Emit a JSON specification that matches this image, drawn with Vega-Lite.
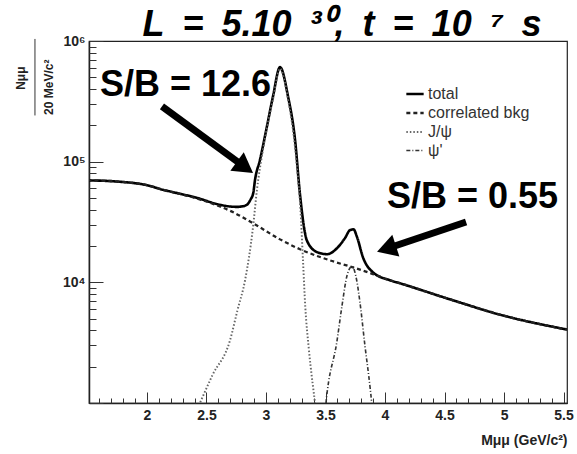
{
  "$schema": "https://vega.github.io/schema/vega-lite/v6.json",
  "width": 478,
  "height": 362,
  "autosize": {"type": "none"},
  "padding": {"left": 89, "top": 41, "right": 10, "bottom": 51},
  "background": "white",
  "config": {"view": {"stroke": "#222", "strokeWidth": 1.2}, "font": "Liberation Sans"},
  "title": {"text": "L\u2002=\u20025.10\u2002³⁰,\u2002t\u2002=\u200210\u2002⁷\u2002s", "fontSize": 36, "fontStyle": "italic", "fontWeight": "bold", "font": "Liberation Sans", "anchor": "middle", "frame": "group", "dx": 14, "offset": -10, "color": "#000"},
  "resolve": {"axis": {"x": "independent", "y": "independent"}},
  "datasets": {
    "curves": [
      {"s": "total", "m": 1.5, "n": 70000}, {"s": "total", "m": 1.75, "n": 68400}, {"s": "total", "m": 2.0, "n": 63800}, {"s": "total", "m": 2.134, "n": 58500}, {"s": "total", "m": 2.25, "n": 55000}, {"s": "total", "m": 2.42, "n": 50100}, {"s": "total", "m": 2.613, "n": 43900}, {"s": "total", "m": 2.7, "n": 42500}, {"s": "total", "m": 2.756, "n": 42200}, {"s": "total", "m": 2.8, "n": 42600}, {"s": "total", "m": 2.84, "n": 44000}, {"s": "total", "m": 2.87, "n": 48500}, {"s": "total", "m": 2.893, "n": 55000}, {"s": "total", "m": 2.908, "n": 70800}, {"s": "total", "m": 2.95, "n": 104000}, {"s": "total", "m": 3.008, "n": 196000}, {"s": "total", "m": 3.059, "n": 348000}, {"s": "total", "m": 3.118, "n": 607000}, {"s": "total", "m": 3.185, "n": 348000}, {"s": "total", "m": 3.244, "n": 152000}, {"s": "total", "m": 3.286, "n": 53100}, {"s": "total", "m": 3.328, "n": 25600}, {"s": "total", "m": 3.342, "n": 22400}, {"s": "total", "m": 3.429, "n": 17800}, {"s": "total", "m": 3.513, "n": 17100}, {"s": "total", "m": 3.597, "n": 19200}, {"s": "total", "m": 3.664, "n": 23300}, {"s": "total", "m": 3.706, "n": 27100}, {"s": "total", "m": 3.735, "n": 27500}, {"s": "total", "m": 3.765, "n": 23700}, {"s": "total", "m": 3.815, "n": 16100}, {"s": "total", "m": 3.899, "n": 12100}, {"s": "total", "m": 4.042, "n": 10400}, {"s": "total", "m": 4.126, "n": 9820}, {"s": "total", "m": 4.521, "n": 7360}, {"s": "total", "m": 4.992, "n": 5310}, {"s": "total", "m": 5.529, "n": 4060},
      {"s": "correlated bkg", "m": 1.5, "n": 70000}, {"s": "correlated bkg", "m": 1.75, "n": 68400}, {"s": "correlated bkg", "m": 2.0, "n": 63800}, {"s": "correlated bkg", "m": 2.134, "n": 58500}, {"s": "correlated bkg", "m": 2.25, "n": 54800}, {"s": "correlated bkg", "m": 2.42, "n": 49500}, {"s": "correlated bkg", "m": 2.613, "n": 42500}, {"s": "correlated bkg", "m": 2.7, "n": 39100}, {"s": "correlated bkg", "m": 2.891, "n": 30900}, {"s": "correlated bkg", "m": 3.118, "n": 22700}, {"s": "correlated bkg", "m": 3.286, "n": 18800}, {"s": "correlated bkg", "m": 3.538, "n": 15200}, {"s": "correlated bkg", "m": 3.731, "n": 13300}, {"s": "correlated bkg", "m": 3.899, "n": 11700}, {"s": "correlated bkg", "m": 4.042, "n": 10400}, {"s": "correlated bkg", "m": 4.126, "n": 9820}, {"s": "correlated bkg", "m": 4.521, "n": 7360}, {"s": "correlated bkg", "m": 4.992, "n": 5310}, {"s": "correlated bkg", "m": 5.529, "n": 4060},
      {"s": "J/ψ", "m": 2.4, "n": 794}, {"s": "J/ψ", "m": 2.445, "n": 1000}, {"s": "J/ψ", "m": 2.55, "n": 1700}, {"s": "J/ψ", "m": 2.697, "n": 3290}, {"s": "J/ψ", "m": 2.76, "n": 5850}, {"s": "J/ψ", "m": 2.824, "n": 10400}, {"s": "J/ψ", "m": 2.891, "n": 28700}, {"s": "J/ψ", "m": 2.924, "n": 58500}, {"s": "J/ψ", "m": 2.975, "n": 126000}, {"s": "J/ψ", "m": 3.008, "n": 190000}, {"s": "J/ψ", "m": 3.059, "n": 331000}, {"s": "J/ψ", "m": 3.118, "n": 590000}, {"s": "J/ψ", "m": 3.185, "n": 331000}, {"s": "J/ψ", "m": 3.244, "n": 132000}, {"s": "J/ψ", "m": 3.27, "n": 70800}, {"s": "J/ψ", "m": 3.29, "n": 39800}, {"s": "J/ψ", "m": 3.31, "n": 15800}, {"s": "J/ψ", "m": 3.33, "n": 6300}, {"s": "J/ψ", "m": 3.36, "n": 2800}, {"s": "J/ψ", "m": 3.412, "n": 1000}, {"s": "J/ψ", "m": 3.43, "n": 708},
      {"s": "ψ'", "m": 3.49, "n": 708}, {"s": "ψ'", "m": 3.504, "n": 1000}, {"s": "ψ'", "m": 3.597, "n": 3290}, {"s": "ψ'", "m": 3.639, "n": 6430}, {"s": "ψ'", "m": 3.681, "n": 11400}, {"s": "ψ'", "m": 3.723, "n": 13600}, {"s": "ψ'", "m": 3.762, "n": 10400}, {"s": "ψ'", "m": 3.79, "n": 6760}, {"s": "ψ'", "m": 3.832, "n": 2950}, {"s": "ψ'", "m": 3.874, "n": 1360}, {"s": "ψ'", "m": 3.888, "n": 1000}, {"s": "ψ'", "m": 3.9, "n": 700}
    ],
    "arrows": [
      {"m": 2.126, "n": 287000, "m2": 2.824, "n2": 89900, "a": 36},
      {"m": 4.681, "n": 31600, "m2": 4.012, "n2": 19000, "a": 162}
    ],
    "notes": [
      {"m": 1.605, "n": 348000, "t": "S/B = 12.6"},
      {"m": 4.017, "n": 41400, "t": "S/B = 0.55"}
    ],
    "ytitle": [
      {"m": 0.941, "n": 492000, "t": "Nμμ"},
      {"m": 1.176, "n": 414000, "t": "20 MeV/c²"}
    ],
    "ybar": [
      {"m": 1.059, "n": 1040000, "n2": 241500}
    ]
  },
  "layer": [
    {
      "data": {"name": "curves"},
      "mark": {"type": "line", "interpolate": "monotone", "clip": true},
      "encoding": {
        "x": {"field": "m", "type": "quantitative",
          "scale": {"domain": [1.513, 5.529], "nice": false, "zero": false},
          "axis": {
            "orient": "bottom",
            "title": "Mμμ (GeV/c²)", "titleAnchor": "end", "titleFontSize": 14, "titleFontWeight": "bold", "titleColor": "#222", "titleY": 30,
            "values": [2, 2.5, 3, 3.5, 4, 4.5, 5, 5.5],
            "format": "~g",
            "tickSize": -11, "tickColor": "#333", "domainColor": "#222", "domainWidth": 1.5,
            "labelFontSize": 14, "labelFontWeight": "bold", "labelColor": "#222", "labelPadding": 16, "grid": false, "labelFlush": false
          }
        },
        "y": {"field": "n", "type": "quantitative",
          "scale": {"type": "log", "domain": [1000, 1000000], "nice": false},
          "axis": {
            "orient": "left",
            "title": null,
            "values": [1000, 10000, 100000, 1000000],
            "labelExpr": "datum.value == 10000 ? '10⁴' : datum.value == 100000 ? '10⁵' : datum.value == 1000000 ? '10⁶' : ''",
            "tickSize": -14, "tickColor": "#333", "domainColor": "#222", "domainWidth": 1.5,
            "labelFontSize": 14, "labelFontWeight": "bold", "labelColor": "#222", "labelPadding": 18, "grid": false
          }
        },
        "color": {"field": "s", "type": "nominal",
          "scale": {"domain": ["total", "correlated bkg", "J/ψ", "ψ'"], "range": ["#000000", "#222222", "#666666", "#333333"]},
          "legend": {"orient": "none", "legendX": 316, "legendY": 43, "title": null, "symbolType": "stroke", "symbolSize": 300, "symbolStrokeWidth": 1.3, "labelFontSize": 16, "labelColor": "#333", "rowPadding": 1, "labelOffset": 3}
        },
        "strokeDash": {"field": "s", "type": "nominal",
          "scale": {"domain": ["total", "correlated bkg", "J/ψ", "ψ'"], "range": [[1, 0], [4, 3], [1.5, 2], [4, 2, 1, 2]]},
          "legend": {"orient": "none", "legendX": 316, "legendY": 43, "title": null, "symbolType": "stroke", "symbolSize": 300, "symbolStrokeWidth": 1.3, "labelFontSize": 16, "labelColor": "#333", "rowPadding": 1, "labelOffset": 3}
        },
        "strokeWidth": {"field": "s", "type": "nominal",
          "scale": {"domain": ["total", "correlated bkg", "J/ψ", "ψ'"], "range": [2.6, 1.6, 1.6, 1.8]},
          "legend": null
        }
      }
    },
    {
      "data": {"name": "arrows"},
      "mark": {"type": "rule", "strokeWidth": 7, "color": "#000"},
      "encoding": {
        "x": {"field": "m", "type": "quantitative",
          "axis": {"orient": "bottom", "values": [1.6,1.7,1.8,1.9,2.1,2.2,2.3,2.4,2.6,2.7,2.8,2.9,3.1,3.2,3.3,3.4,3.6,3.7,3.8,3.9,4.1,4.2,4.3,4.4,4.6,4.7,4.8,4.9,5.1,5.2,5.3,5.4], "labels": false, "domain": false, "title": null, "tickSize": -5, "tickColor": "#333", "grid": false}},
        "y": {"field": "n", "type": "quantitative",
          "axis": {"orient": "left", "values": [2000,3000,4000,5000,6000,7000,8000,9000,20000,30000,40000,50000,60000,70000,80000,90000,200000,300000,400000,500000,600000,700000,800000,900000], "labels": false, "domain": false, "title": null, "tickSize": -7, "tickColor": "#333", "grid": false}},
        "x2": {"field": "m2"},
        "y2": {"field": "n2"}
      }
    },
    {
      "data": {"name": "arrows"},
      "mark": {"type": "point", "shape": "triangle-right", "filled": true, "size": 520, "color": "#000", "opacity": 1},
      "encoding": {
        "x": {"field": "m2", "type": "quantitative", "axis": null},
        "y": {"field": "n2", "type": "quantitative", "axis": null},
        "angle": {"field": "a", "type": "quantitative", "scale": null}
      }
    },
    {
      "data": {"name": "notes"},
      "mark": {"type": "text", "align": "left", "baseline": "alphabetic", "fontSize": 36, "fontWeight": "bold", "font": "Liberation Sans", "color": "#000"},
      "encoding": {
        "x": {"field": "m", "type": "quantitative", "axis": null},
        "y": {"field": "n", "type": "quantitative", "axis": null},
        "text": {"field": "t"}
      }
    },
    {
      "data": {"name": "ytitle"},
      "mark": {"type": "text", "align": "center", "baseline": "middle", "angle": 270, "fontSize": 12, "fontWeight": "bold", "font": "Liberation Sans", "color": "#222", "clip": false},
      "encoding": {
        "x": {"field": "m", "type": "quantitative", "axis": null},
        "y": {"field": "n", "type": "quantitative", "axis": null},
        "text": {"field": "t"}
      }
    },
    {
      "data": {"name": "ybar"},
      "mark": {"type": "rule", "strokeWidth": 1, "color": "#333", "clip": false},
      "encoding": {
        "x": {"field": "m", "type": "quantitative", "axis": null},
        "y": {"field": "n", "type": "quantitative", "axis": null},
        "y2": {"field": "n2"}
      }
    }
  ]
}
